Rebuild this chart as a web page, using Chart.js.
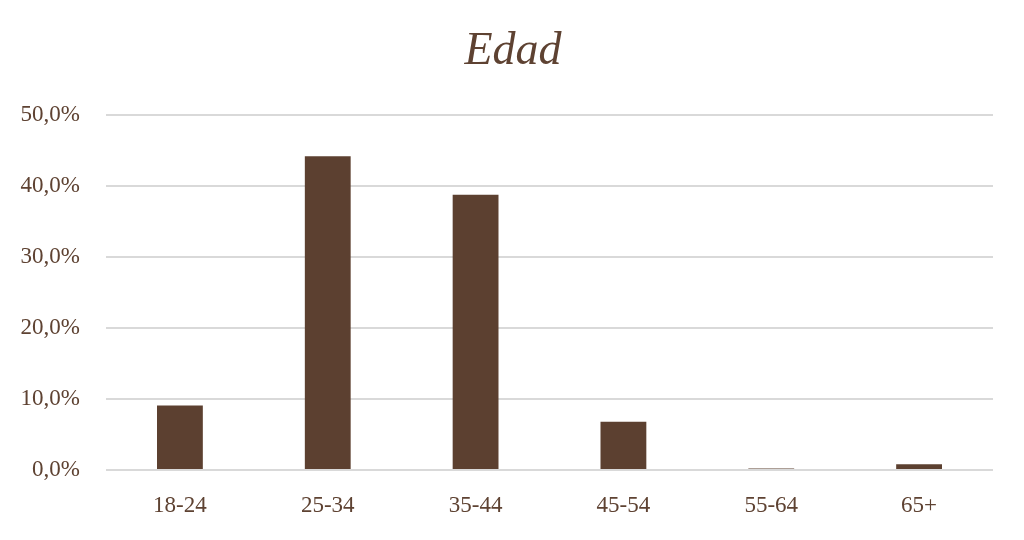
<!DOCTYPE html>
<html>
<head>
<meta charset="utf-8">
<script src="https://cdn.jsdelivr.net/npm/chart.js@4"></script>
<style>
html,body{margin:0;padding:0;background:#fff;}
#wrap{width:1024px;height:540px;}
</style>
</head>
<body>
<div id="wrap"><canvas id="c" width="1024" height="540"></canvas></div>
<script>
const categories = ["18-24", "25-34", "35-44", "45-54", "55-64", "65+"];
const values = [9.1, 44.2, 38.8, 6.8, 0.2, 0.8];
const yTicks = [0, 10, 20, 30, 40, 50];
const titleText = "Edad";

const textColor = "#5E4232";
const barColor = "#5C4030";

const titleShift = {
  id: "titleShift",
  afterLayout(chart) {
    if (chart.titleBlock) { chart.titleBlock.left += 33; }
  }
};

new Chart(document.getElementById("c"), {
  type: "bar",
  data: {
    labels: categories,
    datasets: [{
      data: values,
      backgroundColor: barColor,
      borderWidth: 0,
      categoryPercentage: 1,
      barPercentage: 0.31
    }]
  },
  plugins: [titleShift],
  options: {
    responsive: false,
    animation: false,
    layout: { padding: { left: 0, right: 31, top: 24, bottom: 0 } },
    plugins: {
      legend: { display: false },
      tooltip: { enabled: false },
      title: {
        display: true,
        text: titleText,
        color: textColor,
        font: { family: "'Liberation Serif', serif", size: 46, style: "italic", weight: "normal" },
        padding: { top: 0, bottom: 36 }
      }
    },
    scales: {
      x: {
        grid: { display: false, drawTicks: false },
        border: { display: false },
        afterFit: (axis) => { axis.height = 70; },
        ticks: {
          color: textColor,
          font: { family: "'Liberation Serif', serif", size: 23 },
          padding: 22
        }
      },
      y: {
        min: 0,
        max: 50,
        afterBuildTicks: (axis) => { axis.ticks = yTicks.map(v => ({ value: v })); },
        afterFit: (axis) => { axis.width = 106; },
        grid: { color: "#d9d9d9", lineWidth: 2, drawTicks: false },
        border: { display: false },
        ticks: {
          color: textColor,
          font: { family: "'Liberation Serif', serif", size: 23 },
          padding: 26,
          callback: (v) => v.toFixed(1).replace(".", ",") + "%"
        }
      }
    }
  }
});
</script>
</body>
</html>
